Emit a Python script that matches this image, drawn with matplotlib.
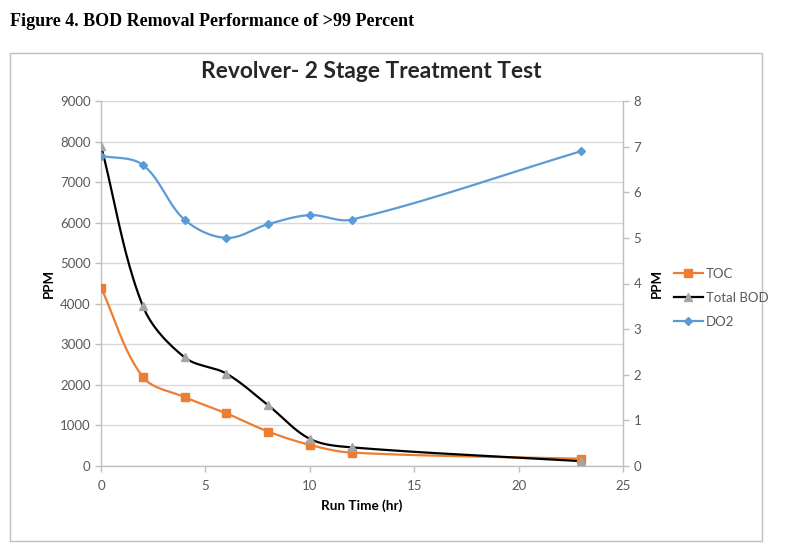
import numpy as np
import matplotlib
matplotlib.use("Agg")
import matplotlib.pyplot as plt
from matplotlib.patches import Rectangle
from matplotlib.lines import Line2D

# ---- data ----
run_time = [0, 2, 4, 6, 8, 10, 12, 23]
toc = [4400, 2200, 1700, 1300, 850, 520, 330, 180]
total_bod = [7900, 3950, 2680, 2280, 1500, 670, 460, 120]
do2 = [6.8, 6.6, 5.4, 5.0, 5.3, 5.5, 5.4, 6.9]

x_ticks = [0, 5, 10, 15, 20, 25]
left_ticks = list(range(0, 9001, 1000))
right_ticks = list(range(0, 9))

fig_title = "Figure 4. BOD Removal Performance of >99 Percent"
chart_title = "Revolver- 2 Stage Treatment Test"

ORANGE = "#ED7D31"
BLUE = "#5B9BD5"
GRAY = "#A5A5A5"
TXT = "#595959"
GRID = "#D9D9D9"


def smooth(xs, ys, sx, sy, n=40):
    """Excel-like Bezier smoothing computed in pixel-like space, tangents scaled by segment length."""
    P = np.column_stack([np.asarray(xs, float) * sx, np.asarray(ys, float) * sy])
    m = len(P)
    T = []
    for i in range(m):
        a = P[i - 1] if i > 0 else P[i]
        b = P[i + 1] if i < m - 1 else P[i]
        d = b - a
        nd = np.linalg.norm(d)
        T.append(d / nd if nd > 0 else d)
    out = []
    t = np.linspace(0, 1, n)[:, None]
    for i in range(m - 1):
        p1, p2 = P[i], P[i + 1]
        L = np.linalg.norm(p2 - p1)
        c1 = p1 + T[i] * L / 3.0
        c2 = p2 - T[i + 1] * L / 3.0
        seg = ((1 - t) ** 3) * p1 + 3 * ((1 - t) ** 2) * t * c1 + 3 * (1 - t) * t ** 2 * c2 + t ** 3 * p2
        out.append(seg if i == 0 else seg[1:])
    out = np.vstack(out)
    return out[:, 0] / sx, out[:, 1] / sy


fig = plt.figure(figsize=(8, 5.6), dpi=100)
plt.rcParams['font.family'] = ['Lato', 'DejaVu Sans']

# outer chart border
fig.patches.append(Rectangle((10 / 800, 1 - 541 / 560), 752 / 800, 488 / 560,
                             transform=fig.transFigure, fill=False,
                             edgecolor="#BFBFBF", linewidth=1.0))

fig.text(10 / 800, 1 - 21 / 560, fig_title, family=['Liberation Serif'],
         fontweight='bold', fontsize=13, va='center', ha='left', color='black')
fig.text(371 / 800, 1 - 72 / 560, chart_title, fontweight='bold', fontsize=16.4,
         va='center', ha='center', color='#262626')

ax = fig.add_axes([101 / 800, 1 - 466 / 560, 522 / 800, 365 / 560])
ax2 = ax.twinx()

ax.set_xlim(0, 25)
ax.set_ylim(0, 9000)
ax2.set_ylim(0, 8)

W, H = 522.0, 365.0
sx = W / 25
sy1 = H / 9000
sy2 = H / 8

xs, ys = smooth(run_time, toc, sx, sy1)
ax.plot(xs, ys, color=ORANGE, lw=1.6, zorder=3)
ax.plot(run_time, toc, ls='none', marker='s', ms=6, color=ORANGE, zorder=4)

xs, ys = smooth(run_time, total_bod, sx, sy1)
ax.plot(xs, ys, color='black', lw=1.6, zorder=3)
ax.plot(run_time, total_bod, ls='none', marker='^', ms=6, color=GRAY, zorder=4)

xs, ys = smooth(run_time, do2, sx, sy2)
ax2.plot(xs, ys, color=BLUE, lw=1.6, zorder=3)
ax2.plot(run_time, do2, ls='none', marker='D', ms=4.5, color=BLUE, zorder=4)

ax.set_xticks(x_ticks)
ax.set_yticks(left_ticks)
ax2.set_yticks(right_ticks)
ax.yaxis.grid(True, color=GRID, lw=1.0)
ax.set_axisbelow(True)

for a in (ax, ax2):
    for s in a.spines.values():
        s.set_visible(False)
ax.spines['left'].set_visible(True)
ax.spines['bottom'].set_visible(True)
ax2.spines['right'].set_visible(True)
for s in (ax.spines['left'], ax.spines['bottom'], ax2.spines['right']):
    s.set_color('#BFBFBF')
    s.set_linewidth(1.0)

ax.tick_params(axis='both', colors='#BFBFBF', labelcolor=TXT, labelsize=9.5, length=4, width=1)
ax2.tick_params(axis='y', colors='#BFBFBF', labelcolor=TXT, labelsize=9.5, length=4, width=1)
ax.tick_params(axis='x', pad=6)

ax.set_ylabel("PPM", fontweight='bold', fontsize=9.5, color='black', labelpad=4)
ax2.set_ylabel("PPM", fontweight='bold', fontsize=9.5, color='black', labelpad=7, rotation=90)
ax.set_xlabel("Run Time (hr)", fontweight='bold', fontsize=9.7, color='black', labelpad=5)

handles = [
    Line2D([], [], color=ORANGE, lw=1.6, marker='s', ms=6),
    Line2D([], [], color='black', lw=1.6, marker='^', ms=6, mfc=GRAY, mec=GRAY),
    Line2D([], [], color=BLUE, lw=1.6, marker='D', ms=4),
]
fig.legend(handles, ["TOC", "Total BOD", "DO2"], loc='upper left',
           bbox_to_anchor=(662 / 800, 1 - 256 / 560), frameon=False,
           fontsize=9.5, handlelength=2.2, handletextpad=0.2, labelspacing=0.9,
           labelcolor=TXT)

fig.savefig("out.png", dpi=100)
